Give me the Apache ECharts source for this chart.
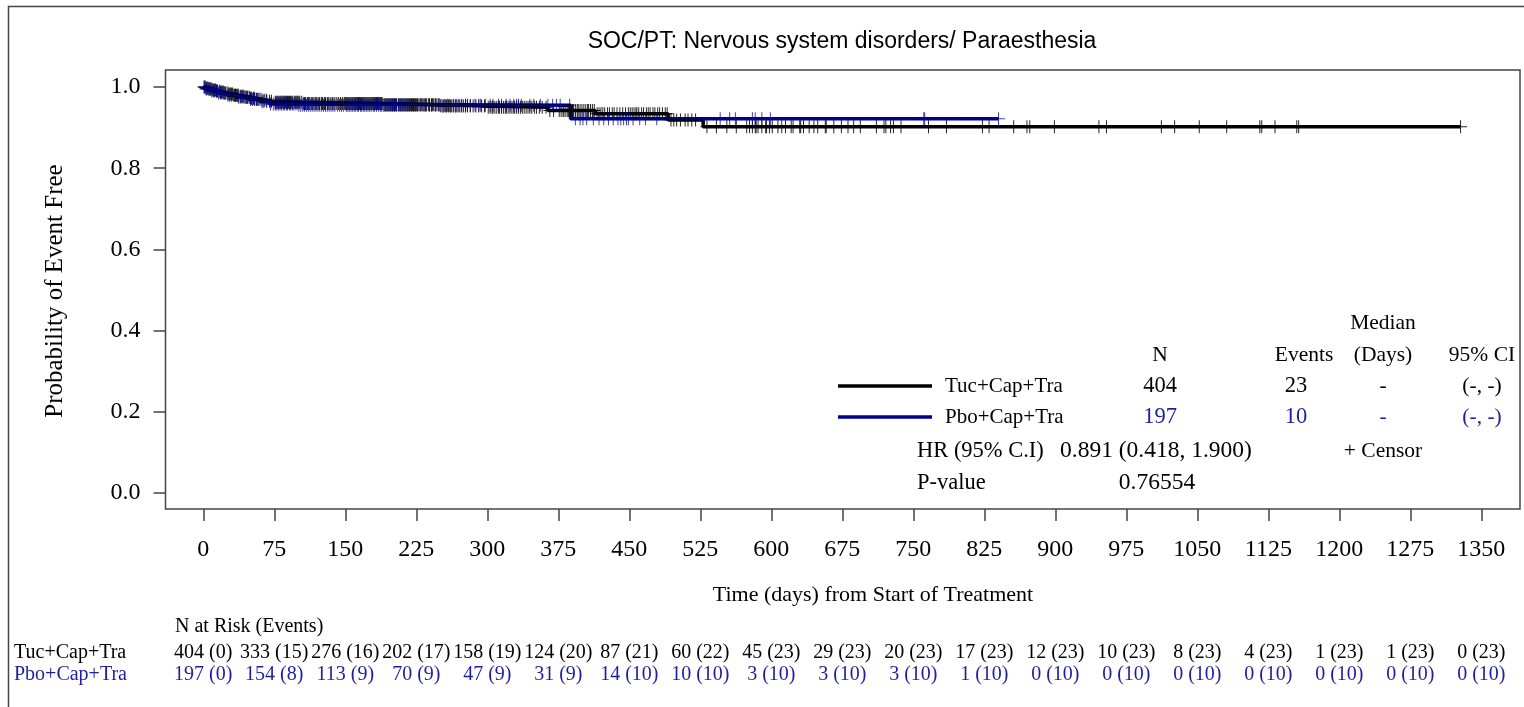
<!DOCTYPE html>
<html>
<head>
<meta charset="utf-8">
<script src="https://cdn.jsdelivr.net/npm/echarts@6/dist/echarts.min.js"></script>
<style>
  html, body { margin: 0; padding: 0; background: #fff; }
  #chart { width: 1524px; height: 707px; }
</style>
</head>
<body>
<div id="chart"></div>
<script>
// ---- Data ----
const xTicks = [0, 75, 150, 225, 300, 375, 450, 525, 600, 675, 750, 825, 900, 975, 1050, 1125, 1200, 1275, 1350];
const yTicks = [0, 0.2, 0.4, 0.6, 0.8, 1.0];

// Kaplan-Meier steps [day, probability of event free]
const tucSteps = [[0, 1.000], [3, 0.9975], [6, 0.9950], [10, 0.9925], [14, 0.9900], [18, 0.9875], [22, 0.9850],
  [27, 0.9825], [33, 0.9800], [38, 0.9775], [44, 0.9750], [50, 0.9725], [56, 0.9700], [62, 0.9675], [68, 0.9650],
  [73, 0.9625], [105, 0.9595], [190, 0.9565], [250, 0.9535], [298, 0.9500], [364, 0.9420], [414, 0.9340],
  [491, 0.9190], [528, 0.9020]];
const pboSteps = [[0, 1.000], [2, 0.9950], [8, 0.9900], [15, 0.9850], [25, 0.9800], [35, 0.9745], [48, 0.9690],
  [60, 0.9635], [70, 0.9580], [100, 0.9550], [388, 0.9220]];

// Censoring times (days)
const tucCensor = [1, 2, 3, 4, 5, 6, 7, 8, 9, 10, 11, 12, 13, 14, 15, 17, 18, 19, 20, 21, 22, 23, 24, 26, 27, 28, 29, 30, 31,
  33, 34, 35, 36, 37, 39, 40, 41, 42, 43, 45, 46, 47, 49, 50, 51, 53, 54, 56, 57, 59, 61, 63, 65, 67, 70, 72,
  76, 77, 78, 79, 80, 81, 82, 83, 84, 85, 86, 87, 88, 89, 90, 91, 92, 93, 94, 96, 97, 98, 99, 100, 101, 102, 104,
  106, 107, 108, 110, 111, 112, 114, 115, 116, 118, 119, 120, 122, 123, 125, 126, 128, 129, 131, 132, 134, 136,
  137, 139, 141, 143, 145, 147, 149,
  150, 151, 152, 153, 154, 155, 156, 157, 158, 159, 160, 161, 162, 163, 164, 165, 166, 167, 168, 169, 170, 171,
  172, 173, 174, 175, 176, 177, 178, 179, 180, 181, 182, 183, 184, 185, 186, 187, 188, 189, 191, 192, 193, 194,
  195, 196, 197, 198, 199, 200, 201, 202, 203, 204, 206, 207, 208, 209, 210, 211, 212, 213, 214, 215, 216, 217,
  218, 219, 220, 221, 222, 223, 224,
  225, 226, 227, 229, 230, 231, 232, 234, 235, 236, 238, 239, 241, 242, 243, 245, 246, 248, 249, 251, 253, 254,
  256, 257, 259, 261, 262, 264, 266, 267, 269, 271, 273, 275, 277, 279, 282, 285, 288, 291, 294, 297,
  301, 303, 305, 306, 308, 310, 312, 313, 315, 317, 319, 320, 322, 324, 326, 328, 329, 331, 333, 335, 337, 339,
  341, 343, 345, 347, 350, 352, 355, 358, 362, 366, 370,
  376, 378, 380, 381, 383, 385, 386, 388, 390, 391, 393, 395, 396, 398, 400, 402, 404, 406, 407, 409, 411, 413,
  416, 418, 420, 422, 424, 427, 429, 432, 434, 437, 440, 443, 446, 449,
  451, 453, 455, 457, 458, 460, 463, 465, 468, 470, 472, 475, 477, 480, 482, 485, 488, 490, 494, 497, 500, 504,
  509, 512, 516, 520,
  532, 542, 553, 563, 574, 577, 580, 583, 584, 586, 590, 594, 595, 598,
  601, 607, 611, 615, 621, 623, 630, 631, 634, 640, 645, 649, 657, 658, 666, 674,
  681, 687, 694, 711, 719, 721, 726, 729, 737,
  766, 785, 823, 830, 856, 870, 873, 899, 946, 954, 1012, 1026, 1052, 1081, 1116, 1118, 1132, 1155, 1157, 1328];
const pboCensor = [1, 3, 4, 6, 7, 9, 11, 12, 14, 16, 18, 19, 21, 23, 26, 28, 30, 32, 34, 37, 39, 41, 43, 45, 47, 50,
  52, 54, 56, 58, 62, 64, 67, 71, 74,
  76, 77, 79, 80, 82, 83, 85, 86, 88, 89, 91, 92, 94, 95, 97, 99, 101, 103, 105, 107, 109, 111, 113, 115, 117, 119,
  121, 123, 125, 127, 129, 131, 133, 135, 137, 139, 142, 144, 146, 148,
  151, 152, 154, 155, 157, 158, 160, 161, 163, 164, 166, 167, 169, 170, 172, 173, 175, 176, 178, 180, 181, 183,
  185, 187, 188, 190, 192, 194, 196, 198, 200, 202, 204, 206, 208, 210, 212, 214, 216, 218, 220, 222, 224,
  226, 229, 233, 235, 239, 241, 245, 249, 251, 255, 258, 260, 264, 267, 270, 273, 277, 279, 282, 287, 291, 293, 298,
  303, 306, 312, 315, 320, 324, 328, 331, 333, 336, 345, 349, 356, 364, 369, 373,
  377, 387, 393, 398, 401, 405, 412, 418, 423, 428, 433, 438, 441, 444, 447, 449,
  454, 461, 467, 479, 546, 556, 562, 580, 583, 590, 599, 761, 762, 840];

// Numbers at risk (cumulative events) at each tick
const riskTuc = ['404 (0)', '333 (15)', '276 (16)', '202 (17)', '158 (19)', '124 (20)', '87 (21)', '60 (22)', '45 (23)',
  '29 (23)', '20 (23)', '17 (23)', '12 (23)', '10 (23)', '8 (23)', '4 (23)', '1 (23)', '1 (23)', '0 (23)'];
const riskPbo = ['197 (0)', '154 (8)', '113 (9)', '70 (9)', '47 (9)', '31 (9)', '14 (10)', '10 (10)', '3 (10)',
  '3 (10)', '3 (10)', '1 (10)', '0 (10)', '0 (10)', '0 (10)', '0 (10)', '0 (10)', '0 (10)', '0 (10)'];

const groups = ['Tuc+Cap+Tra', 'Pbo+Cap+Tra'];
const summaryN = ['404', '197'];
const summaryEvents = ['23', '10'];
const summaryMedian = ['-', '-'];
const summaryCI = ['(-, -)', '(-, -)'];
const hrText = '0.891 (0.418, 1.900)';
const pValue = '0.76554';

// ---- Styling ----
const SERIF = "'Liberation Serif', 'Times New Roman', serif";
const SANS = "'Liberation Sans', Arial, sans-serif";
const BLACK = '#000000';
const NAVY = '#000090';
const BLUE_TEXT = '#1e1ea0';
const FRAME = '#444444';

function survivalAt(steps, t) {
  let s = steps[0][1];
  for (const p of steps) { if (p[0] <= t) s = p[1]; else break; }
  return s;
}
function curvePoints(steps, censor) {
  const pts = steps.map(p => [p[0], p[1]]);
  const last = censor[censor.length - 1];
  pts.push([last, survivalAt(steps, last)]);
  return pts;
}
const plusPath = 'path://M6,0h1v6h6v1h-6v6h-1v-6h-6v-1h6z';

const chart = echarts.init(document.getElementById('chart'), null, { renderer: 'canvas' });

chart.setOption({
  animation: false,
  backgroundColor: '#ffffff',
  grid: { left: 165.5, top: 70, width: 1354.5, height: 439, show: true, borderColor: FRAME, borderWidth: 1.5 },
  xAxis: {
    type: 'value', min: -39.9, max: 1390.8,
    axisLine: { show: false, onZero: false },
    splitLine: { show: false },
    axisTick: { show: true, length: 12, customValues: xTicks, lineStyle: { color: FRAME, width: 1.5 } },
    axisLabel: { customValues: xTicks, margin: 29, fontFamily: SERIF, fontSize: 24, color: '#000',
      formatter: v => String(v) }
  },
  yAxis: {
    type: 'value', min: -0.0394, max: 1.0419,
    axisLine: { show: false, onZero: false },
    splitLine: { show: false },
    axisTick: { show: true, length: 12, customValues: yTicks, lineStyle: { color: FRAME, width: 1.5 } },
    axisLabel: { customValues: yTicks, margin: 25, fontFamily: SERIF, fontSize: 24, color: '#000',
      formatter: v => v.toFixed(1) }
  },
  series: [
    { name: groups[0], type: 'line', step: 'end', symbol: 'none', data: curvePoints(tucSteps, tucCensor),
      lineStyle: { color: BLACK, width: 3.5 }, z: 2 },
    { name: groups[1], type: 'line', step: 'end', symbol: 'none', data: curvePoints(pboSteps, pboCensor),
      lineStyle: { color: NAVY, width: 3.5 }, z: 3 },
    { type: 'scatter', symbol: plusPath, symbolSize: 13, z: 4,
      data: tucCensor.map(t => [t, survivalAt(tucSteps, t)]), itemStyle: { color: BLACK, opacity: 0.85 } },
    { type: 'scatter', symbol: plusPath, symbolSize: 13, z: 5,
      data: pboCensor.map(t => [t, survivalAt(pboSteps, t)]), itemStyle: { color: NAVY, opacity: 0.75 } }
  ]
});

// ---- Text, legend table and at-risk table ----
function txt(text, x, y, opts) {
  opts = opts || {};
  return {
    type: 'text', x: x, y: y, rotation: opts.rotation || 0, silent: true,
    style: {
      text: text, fill: opts.color || '#000', align: opts.align || 'center', verticalAlign: 'middle',
      font: (opts.size || 21.5) + 'px ' + (opts.family || SERIF)
    }
  };
}
const NUM = 22.5;
const g = [];
// outer frame
g.push({ type: 'rect', silent: true, shape: { x: 8.5, y: 6.5, width: 1600, height: 800 },
  style: { fill: 'none', stroke: FRAME, lineWidth: 1.5 } });
g.push(txt('SOC/PT: Nervous system disorders/ Paraesthesia', 842, 42, { size: 23, family: SANS }));
g.push(txt('Probability of Event Free', 55, 291, { size: 25, rotation: Math.PI / 2 }));
g.push(txt('Time (days) from Start of Treatment', 873, 595, { size: 22 }));

// legend / summary table
const colors = [BLACK, BLUE_TEXT];
const lineColors = [BLACK, NAVY];
const rowY = [386, 417];
g.push(txt('Median', 1383, 323));
g.push(txt('N', 1160, 355));
g.push(txt('Events', 1304, 355));
g.push(txt('(Days)', 1383, 355));
g.push(txt('95% CI', 1482, 355));
for (let i = 0; i < 2; i++) {
  g.push({ type: 'line', silent: true, shape: { x1: 838, y1: rowY[i], x2: 932, y2: rowY[i] },
    style: { stroke: lineColors[i], lineWidth: 3.5 } });
  g.push(txt(groups[i], 945, rowY[i], { align: 'left', size: 21 }));
  g.push(txt(summaryN[i], 1160, rowY[i], { color: colors[i], size: NUM }));
  g.push(txt(summaryEvents[i], 1296, rowY[i], { color: colors[i], size: NUM }));
  g.push(txt(summaryMedian[i], 1383, rowY[i], { color: colors[i] }));
  g.push(txt(summaryCI[i], 1482, rowY[i], { color: colors[i] }));
}
g.push(txt('HR (95% C.I)', 917, 451, { align: 'left', size: 22.5 }));
g.push(txt(hrText, 1060, 451, { align: 'left', size: 23.5 }));
g.push(txt('+ Censor', 1383, 451));
g.push(txt('P-value', 917, 483, { align: 'left', size: 22.5 }));
g.push(txt(pValue, 1157, 483, { size: 23.5 }));

// at-risk table, columns aligned with the x-axis ticks
g.push(txt('N at Risk (Events)', 175, 627, { align: 'left', size: 20 }));
const riskY = [653, 675];
g.push(txt(groups[0], 14, riskY[0], { align: 'left', size: 20 }));
g.push(txt(groups[1], 14, riskY[1], { align: 'left', size: 20, color: BLUE_TEXT }));
xTicks.forEach((t, i) => {
  const px = chart.convertToPixel({ xAxisIndex: 0 }, t);
  g.push(txt(riskTuc[i], px, riskY[0], { size: 20 }));
  g.push(txt(riskPbo[i], px, riskY[1], { size: 20, color: BLUE_TEXT }));
});

chart.setOption({ graphic: { elements: g } });
</script>
</body>
</html>
